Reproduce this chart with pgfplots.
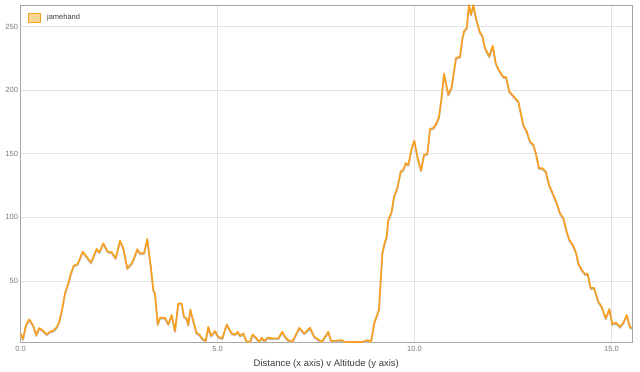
\documentclass[border=0pt]{standalone}
\usepackage{fontspec}
\setmainfont{Liberation Sans}
\usepackage{pgfplots}
\usepackage{pgfplotstable}
\pgfplotsset{compat=1.18}
\definecolor{lineorange}{RGB}{250,160,30}
\definecolor{legfill}{RGB}{253,214,150}
\definecolor{gridgray}{RGB}{226,226,226}
\definecolor{ticktext}{RGB}{120,120,120}
\definecolor{labeltext}{RGB}{60,60,60}
\pgfplotstableread{
x y
0.000 8.8
0.063 4.3
0.140 15.4
0.223 19.8
0.325 14.8
0.401 7.5
0.477 13.0
0.563 11.2
0.665 8.0
0.749 10.1
0.832 10.9
0.909 13.2
0.985 18.0
1.061 28.5
1.129 40.3
1.213 48.2
1.282 56.1
1.350 62.0
1.452 63.4
1.579 73.1
1.680 69.1
1.789 64.4
1.934 75.2
2.000 72.6
2.102 79.7
2.213 73.1
2.315 72.6
2.416 67.9
2.525 81.7
2.609 75.7
2.711 60.0
2.822 63.9
2.881 67.9
2.964 75.0
3.033 71.8
3.135 71.8
3.218 83.1
3.312 60.0
3.371 42.9
3.414 40.3
3.482 15.9
3.541 21.1
3.668 21.1
3.751 16.1
3.838 23.2
3.921 10.6
4.005 32.4
4.091 32.4
4.150 21.9
4.218 20.6
4.259 15.4
4.310 27.7
4.371 20.1
4.472 8.8
4.538 8.0
4.599 5.1
4.701 2.8
4.766 14.0
4.835 6.9
4.937 10.6
5.020 6.1
5.122 4.9
5.234 15.9
5.360 8.8
5.444 8.0
5.513 10.1
5.571 6.9
5.655 8.8
5.741 2.2
5.825 2.2
5.893 8.0
5.995 4.9
6.061 2.2
6.122 5.4
6.188 2.8
6.274 5.4
6.416 4.9
6.543 4.9
6.645 10.1
6.713 6.1
6.797 3.5
6.898 2.2
6.942 4.9
7.076 13.2
7.203 8.8
7.348 13.2
7.457 6.1
7.645 2.2
7.812 10.1
7.881 2.8
8.152 3.5
8.218 2.2
8.350 2.0
8.500 2.0
8.650 2.0
8.744 2.8
8.812 3.5
8.896 2.2
8.980 17.3
9.099 27.7
9.183 71.8
9.251 80.9
9.294 84.9
9.335 98.0
9.421 104.6
9.480 116.4
9.563 123.0
9.650 136.1
9.716 137.4
9.777 142.7
9.843 141.3
9.929 154.5
9.995 160.5
10.081 146.6
10.165 136.9
10.241 149.2
10.325 150.0
10.393 169.7
10.477 170.2
10.546 173.4
10.622 178.9
10.690 195.1
10.749 213.0
10.858 196.5
10.944 202.5
11.053 225.4
11.155 226.4
11.213 240.3
11.256 246.3
11.325 249.0
11.383 267.0
11.434 259.4
11.492 267.0
11.579 254.2
11.662 245.5
11.721 242.9
11.789 233.2
11.898 226.6
11.985 235.0
12.061 221.4
12.127 216.7
12.254 210.4
12.322 210.4
12.406 199.1
12.551 193.9
12.635 191.2
12.761 172.8
12.848 167.6
12.931 159.7
13.015 157.1
13.076 151.0
13.160 138.7
13.244 138.7
13.330 136.1
13.414 125.6
13.523 117.7
13.609 111.2
13.693 103.3
13.777 99.4
13.863 88.8
13.929 82.3
14.005 79.1
14.099 72.3
14.157 63.9
14.244 58.7
14.327 55.5
14.396 55.5
14.472 44.3
14.556 44.7
14.665 33.7
14.751 29.8
14.853 20.6
14.944 28.0
15.020 16.1
15.114 17.2
15.216 14.0
15.299 17.2
15.386 23.2
15.470 14.0
15.513 12.8
}\altitude
\begin{document}
\begin{tikzpicture}
\begin{axis}[
  scale only axis,
  width=611.5pt, height=337pt,
  xmin=0, xmax=15.52,
  ymin=2, ymax=267,
  xtick={0,5,10,15},
  ytick={50,100,150,200,250},
  xticklabel style={/pgf/number format/fixed,/pgf/number format/precision=1,/pgf/number format/fixed zerofill},
  /pgf/number format/assume math mode=true,
  tick style={draw=none},
  tick label style={font=\fontsize{7.5}{9}\selectfont, text=ticktext},
  yticklabel style={xshift=1pt},
  xticklabel style={yshift=-1pt},
  xmajorgrids, ymajorgrids,
  grid style={draw=gridgray, line width=0.8pt},
  axis line style={draw=gray!70, line width=0.8pt},
  xlabel={Distance (x axis) v Altitude (y axis)},
  xlabel style={font=\fontsize{9.5}{11}\selectfont, text=labeltext, yshift=-1pt},
  legend style={draw=none, fill=none, at={(0,1)}, anchor=north west, xshift=4pt, yshift=-5pt,
    font=\fontsize{7.5}{9}\selectfont, text=labeltext},
  legend cell align=left,
  clip=true,
]
\addplot[draw=black!25, line width=1.8pt, yshift=-1pt, forget plot, line join=round] table[x=x,y=y]{\altitude};
\addplot[draw=lineorange, line width=1.6pt, line join=round,
  legend image code/.code={\path[draw=none, fill=none] (0pt,0pt) -- (17pt,0pt); \draw[draw=lineorange, fill=legfill, line width=0.8pt] (0pt,-4.5pt) rectangle (12pt,4.5pt);}]
  table[x=x,y=y]{\altitude};
\addlegendentry{jamehand}
\end{axis}
\path (current axis.south west) ++(-20.5pt,-29pt) coordinate (bbA);
\path (current axis.north east) ++(8pt,5pt) coordinate (bbB);
\path (bbA) rectangle (bbB);
\end{tikzpicture}
\end{document}
